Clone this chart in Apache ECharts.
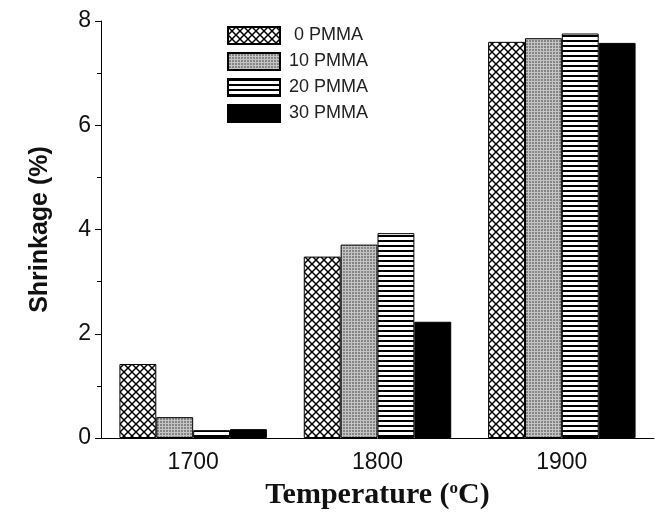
<!DOCTYPE html>
<html>
<head>
<meta charset="utf-8">
<script src="https://cdn.jsdelivr.net/npm/echarts@6/dist/echarts.min.js"></script>
<style>
  html, body { margin: 0; padding: 0; background: #fff; }
  #chart { width: 661px; height: 518px; }
</style>
</head>
<body>
<div id="chart"></div>
<script>
// data
const categories = ['1700', '1800', '1900'];
const seriesNames = [' 0 PMMA', '10 PMMA', '20 PMMA', '30 PMMA'];
const pmma0 = [1.42, 3.48, 7.60];
const pmma10 = [0.40, 3.71, 7.67];
const pmma20 = [0.15, 3.93, 7.76];
const pmma30 = [0.17, 2.23, 7.58];
const yTicks = [0, 2, 4, 6, 8];

// fill patterns like the scanned figure
function makePattern(kind) {
    const c = document.createElement('canvas');
    const ctx = c.getContext('2d');
    if (kind === 'cross') {
        c.width = 8; c.height = 8;
        ctx.fillStyle = '#fff';
        ctx.fillRect(0, 0, 8, 8);
        ctx.strokeStyle = '#000';
        ctx.lineWidth = 1.5;
        ctx.beginPath();
        ctx.moveTo(0, 0); ctx.lineTo(8, 8);
        ctx.moveTo(8, 0); ctx.lineTo(0, 8);
        ctx.stroke();
    } else if (kind === 'gray') {
        c.width = 3; c.height = 3;
        ctx.fillStyle = '#858585';
        ctx.fillRect(0, 0, 3, 3);
        ctx.fillStyle = '#c4c4c4';
        ctx.fillRect(0, 0, 1, 3);
        ctx.fillRect(0, 0, 3, 1);
    } else {
        c.width = 5; c.height = 5;
        ctx.fillStyle = '#fff';
        ctx.fillRect(0, 0, 5, 5);
        ctx.fillStyle = '#000';
        ctx.fillRect(0, 0, 5, 2);
    }
    return { image: c, repeat: 'repeat' };
}

const fills = [makePattern('cross'), makePattern('gray'), makePattern('stripe'), '#000'];
const values = [pmma0, pmma10, pmma20, pmma30];

const chart = echarts.init(document.getElementById('chart'), null, { renderer: 'canvas' });

const option = {
    animation: false,
    backgroundColor: '#fff',
    grid: { left: 101, right: 7, top: 21, bottom: 80 },
    legend: {
        orient: 'vertical',
        left: 222,
        top: 21,
        icon: 'rect',
        itemWidth: 52,
        itemHeight: 17,
        itemGap: 7,
        data: seriesNames,
        textStyle: { fontSize: 18, color: '#222', fontFamily: 'Liberation Sans, Arial', padding: [0, 0, 0, 4] }
    },
    xAxis: {
        type: 'category',
        data: categories,
        axisLine: { lineStyle: { color: '#000', width: 1 } },
        axisTick: { show: false },
        axisLabel: { fontSize: 23, color: '#111', margin: 13, fontFamily: 'Liberation Sans, Arial' },
        name: 'Temperature ({sup|o}C)',
        nameLocation: 'middle',
        nameGap: 42,
        nameTextStyle: {
            fontSize: 30,
            fontWeight: 'bold',
            color: '#111',
            fontFamily: 'Liberation Serif, Times New Roman',
            rich: {
                sup: {
                    fontSize: 17,
                    fontWeight: 'bold',
                    color: '#111',
                    fontFamily: 'Liberation Serif, Times New Roman',
                    verticalAlign: 'top',
                    padding: [0, 0, 12, 0]
                }
            }
        }
    },
    yAxis: {
        type: 'value',
        min: yTicks[0],
        max: yTicks[yTicks.length - 1],
        interval: 2,
        axisLine: { show: true, lineStyle: { color: '#000', width: 1 } },
        axisTick: { show: true, inside: false, length: 6, lineStyle: { color: '#000' } },
        minorTick: { show: true, splitNumber: 2, length: 4, lineStyle: { color: '#000' } },
        splitLine: { show: false },
        axisLabel: { fontSize: 23, color: '#111', margin: 10, fontFamily: 'Liberation Sans, Arial' },
        name: 'Shrinkage (%)',
        nameLocation: 'middle',
        nameGap: 48,
        nameTextStyle: { fontSize: 25, fontWeight: 'bold', color: '#111', fontFamily: 'Liberation Sans, Arial' }
    },
    series: seriesNames.map((name, i) => ({
        name: name,
        type: 'bar',
        data: values[i],
        barGap: '0%',
        barCategoryGap: '20%',
        itemStyle: { color: fills[i], borderColor: '#000', borderWidth: 1 }
    }))
};

chart.setOption(option);
</script>
</body>
</html>
